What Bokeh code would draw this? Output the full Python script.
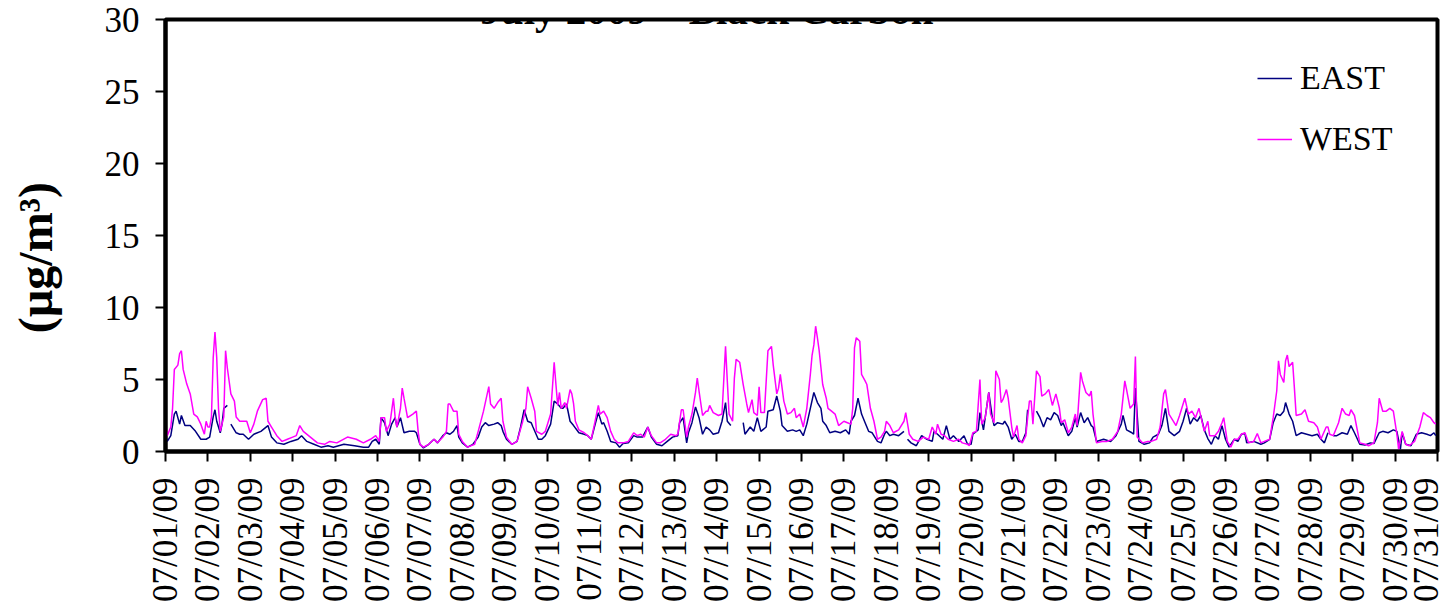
import math
from bokeh.plotting import figure
from bokeh.layouts import row
from bokeh.core.properties import value
from bokeh.models import Range1d, FixedTicker, Label, Legend, LegendItem
from bokeh.embed import file_html
from bokeh.resources import INLINE

NaN = float("nan")

# ---------------- data (hours since 07/01/09 00:00, black carbon in ug/m3) -------------
tick_labels = ["07/01/09", "07/02/09", "07/03/09", "07/04/09", "07/05/09", "07/06/09",
               "07/07/09", "07/08/09", "07/09/09", "07/10/09", "07/11/09", "07/12/09",
               "07/13/09", "07/14/09", "07/15/09", "07/16/09", "07/17/09", "07/18/09",
               "07/19/09", "07/20/09", "07/21/09", "07/22/09", "07/23/09", "07/24/09",
               "07/25/09", "07/26/09", "07/27/09", "07/28/09", "07/29/09", "07/30/09",
               "07/31/09"]
y_ticks = [0, 5, 10, 15, 20, 25, 30]

west_hours = [0, 1, 3, 4, 5, 7, 8, 9, 10, 12, 14, 16, 18, 20, 22, 23, 24, 25, 26, 27, 28, 29, 30,
              31, 32, 33, 34, 35, 37, 39, 40, 42, 44, 46, 48, 50, 52, 55, 57, 58, 60, 63, 66, 69,
              72, 74, 76, 78, 82, 86, 90, 93, 97, 103, 108, 112,
              116, 119, 121, 122, 124, 125, 127, 129, 130, 131, 133, 134, 135, 137, 140, 142, 143,
              144, 146, 149, 152, 154, 157, 159, 160, 161, 163, 165, 166, 168, 171, 175, 177, 180,
              183, 184, 186, 188, 190, 191, 193, 196, 199, 202, 204, 205, 207, 209, 210, 213, 215,
              218, 220, 221, 222, 223, 224, 226, 227, 229, 230,
              231, 232, 234, 237, 239, 241, 243, 245, 246, 248, 250, 252, 254, 256, 259, 262, 265,
              267, 269, 271, 273, 275, 278, 280, 283, 286, 289, 290, 292, 293, 295, 296, 298, 300,
              301, 302, 304, 306, 307, 308, 310, 313, 315, 317, 318, 319, 321, 322, 323, 325, 327,
              329, 330, 332, 333, 335, 336, 337, 339, 341, 343, 344, 346, 347, 348,
              350, 352, 354, 356, 357, 359, 361, 363, 365, 366, 367, 368, 369, 370, 372, 374, 375,
              377, 379, 381, 384, 386, 388, 389, 390, 391, 393, 394, 396, 397, 399, 401, 403, 405,
              407, 408, 410, 412, 415, 418, 419, 421, 423, 426, 429, 432, 434, 436, 437, 439, 441,
              443, 446, 449, 451, 454, 455, 457, 459, 461, 462, 464, 466, 467,
              469, 470, 472, 473, 474, 476, 477, 479, 480, 482, 483, 485, 487, 488, 489, 490, 491,
              493, 495, 496, 498, 500, 502, 504, 506, 507, 509, 511, 513, 515, 516, 518, 519, 521,
              523, 524, 525, 527, 530, 533, 536, 539, 541, 543, 544, 546, 548, 549, 550, 553, 556,
              558, 561, 563, 565, 566, 568, 570, 572, 574, 577, 579, 581, 583, 585, 588, 590,
              591, 594, 596, 598, 599, 601, 603, 605, 607, 609, 611, 613, 616, 618, 620, 622, 625,
              627, 629, 630, 631, 633, 634, 635, 636, 638, 639, 640, 643, 645, 647, 650, 652, 654,
              657, 658, 659, 661, 664, 666, 668, 670, 671, 673, 676, 679, 681, 684, 686, 687, 689,
              691, 693, 695, 697, 698, 700, 702, 704, 707, 710, 712, 714, 716, 718, 719]
west_bc = [2.1, 1.1, 1.7, 3.0, 5.7, 6.0, 6.8, 7.0, 5.7, 4.7, 4.0, 2.6, 2.4, 1.9, 1.2, 2.1, 1.7, 1.7,
           2.4, 6.5, 8.3, 6.5, 3.0, 1.4, 1.9, 2.4, 7.0, 5.8, 4.0, 3.5, 2.4, 2.1, 2.1, 2.1, 1.3, 1.9,
           2.8, 3.6, 3.7, 2.1, 1.7, 1.1, 0.7, 0.85, 1.0, 1.1, 1.8, 1.4, 1.0, 0.6, 0.5, 0.7, 0.6,
           1.0, 0.85, 0.6,
           0.85, 1.1, 0.7, 2.35, 2.35, 1.4, 1.9, 3.7, 2.35, 1.7, 3.0, 4.4, 3.7, 2.35, 2.6, 2.8,
           1.4, 0.5, 0.3, 0.5, 0.85, 0.6, 1.0, 1.4, 3.3, 3.3, 2.8, 2.8, 1.2, 0.7, 0.3, 0.5, 1.4,
           2.8, 4.5, 3.3, 3.0, 3.4, 3.7, 2.1, 1.0, 0.5, 0.7, 2.0, 3.0, 4.5, 3.7, 2.8, 1.4, 1.2,
           1.4, 2.6, 6.2, 4.65, 3.2, 4.1, 3.0, 3.4, 3.0, 4.3, 4.0,
           3.3, 2.1, 1.5, 1.3, 1.1, 0.85, 2.0, 3.2, 2.6, 2.8, 2.35, 1.4, 0.85, 0.6, 0.6, 0.7, 1.3,
           1.1, 1.2, 1.0, 1.7, 1.1, 0.6, 0.6, 0.85, 1.2, 1.1, 1.2, 2.9, 2.9, 1.0, 1.7, 2.6, 4.1,
           5.1, 4.2, 2.5, 2.8, 2.8, 3.2, 2.7, 2.5, 2.6, 7.3, 4.9, 2.6, 2.1, 5.1, 6.4, 6.2, 4.65,
           3.3, 2.7, 3.6, 2.7, 2.5, 4.5, 2.7, 2.7, 7.0, 7.3, 6.0, 4.0, 4.4, 5.35,
           3.5, 2.6, 2.7, 3.0, 2.35, 2.6, 1.7, 3.0, 5.35, 6.7, 7.4, 8.7, 7.9, 7.0, 4.65, 3.7, 3.0,
           2.8, 2.6, 1.8, 2.1, 2.0, 1.9, 3.0, 7.2, 7.9, 7.65, 5.35, 4.9, 4.65, 3.0, 2.1, 0.85, 1.0,
           1.4, 2.1, 1.8, 1.3, 1.5, 2.1, 2.7, 1.2, 0.85, 0.7, 1.0, 0.85, 1.7, 1.2, 1.9, 1.2, 1.1,
           0.85, 0.7, 0.85, 0.6, 0.5, 0.4, 1.3, 1.4, 5.0, 1.9, 2.35, 4.1, 2.6,
           2.0, 5.6, 5.0, 3.4, 3.6, 4.3, 3.7, 1.7, 1.0, 1.8, 0.85, 0.6, 1.1, 2.35, 3.5, 3.5, 1.9,
           5.6, 5.2, 3.85, 4.0, 4.3, 3.2, 4.0, 3.0, 2.0, 2.2, 1.3, 1.7, 2.6, 1.8, 5.5, 4.9, 4.1,
           3.85, 4.2, 2.6, 0.6, 0.7, 0.7, 0.85, 1.4, 2.6, 4.9, 4.3, 3.0, 3.3, 6.6, 1.0, 0.6, 0.7,
           0.7, 0.85, 1.7, 4.0, 4.3, 2.6, 2.2, 1.8, 2.5, 3.7, 2.6, 2.8, 2.35, 3.0, 1.4, 2.1,
           1.1, 1.1, 1.4, 2.0, 2.35, 0.7, 0.3, 0.85, 0.85, 1.2, 1.3, 0.6, 0.7, 1.25, 0.6, 0.7, 0.85,
           2.35, 4.2, 6.3, 5.35, 4.8, 6.3, 6.7, 5.9, 6.2, 4.4, 2.5, 2.6, 2.9, 2.1, 2.0, 1.7, 0.85,
           1.7, 1.7, 1.2, 1.1, 2.0, 3.0, 2.6, 2.5, 2.9, 2.5, 0.6, 0.5, 0.4, 0.6, 2.0, 3.7, 2.8,
           2.8, 3.0, 2.8, 1.2, 0.15, 1.4, 0.5, 0.4, 0.7, 1.7, 2.7, 2.5, 2.35, 2.0, 1.9]

east_hours = [0, 1, 3, 5, 6, 8, 9, 11, 14, 17, 20, 23, 25, 27, 28, 29, 31, 32, 33, 35, 36, 37, 40,
              42, 44, 47, 50, 54, 58, 60, 63, 67, 71, 75, 77, 80, 84, 88, 92, 95, 101, 107, 112,
              115, 117, 119, 121, 122, 124, 126, 128, 130, 131, 133, 135, 138, 141, 142, 144, 146,
              149, 152, 154, 157, 159, 161, 163, 165, 166, 168, 171, 174, 177, 179, 181, 183, 186,
              188, 190, 191, 193, 196, 199, 201, 203, 205, 207, 208, 211, 213, 215, 218, 220, 222,
              224, 225, 227, 229,
              231, 234, 237, 239, 241, 243, 245, 247, 248, 250, 252, 255, 257, 259, 262, 265, 267,
              270, 273, 275, 278, 281, 284, 287, 290, 291, 293, 295, 296, 298, 300, 302, 304, 306,
              308, 310, 313, 315, 317, 318, 320, 321, 327, 328, 331, 333, 335, 337, 340, 341, 344,
              346, 348, 349,
              352, 355, 357, 359, 361, 363, 365, 367, 369, 371, 372, 374, 376, 379, 382, 385, 387,
              388, 390, 392, 394, 396, 398, 400, 403, 405, 407, 408, 410, 412, 415, 418, 419, 420,
              422, 425, 428, 431, 434, 435, 437, 440, 442, 444, 446, 449, 452, 454, 456, 457, 460,
              461, 463, 466, 468,
              469, 471, 474, 475, 477, 479, 481, 483, 485, 487, 488, 489, 493, 495, 497, 499, 501,
              503, 505, 507, 508, 511, 513, 515, 516, 518, 520, 522, 524, 525, 527, 531, 535, 538,
              541, 542, 544, 547, 548, 549, 551, 554, 557, 559, 562, 564, 566, 568, 571, 574, 576,
              578, 580, 582, 584, 586, 588, 590,
              592, 594, 596, 598, 600, 602, 605, 607, 609, 611, 612, 616, 620, 622, 625, 627, 629,
              631, 633, 634, 636, 638, 640, 643, 646, 649, 652, 654, 656, 658, 659, 661, 663, 666,
              669, 671, 673, 676, 679, 682, 684, 687, 689, 692, 695, 697, 699, 700, 702, 705, 708,
              711, 714, 716, 718, 719]
east_bc = [1.2, 0.7, 1.1, 2.6, 2.8, 1.9, 2.5, 1.8, 1.8, 1.4, 0.85, 0.85, 1.0, 2.4, 2.9, 2.1, 1.3,
           1.9, 3.0, 3.2, NaN, 1.9, 1.3, 1.2, 1.2, 0.85, 1.2, 1.4, 1.8, 1.0, 0.6, 0.5, 0.7, 0.85,
           1.1, 0.7, 0.5, 0.3, 0.4, 0.3, 0.5, 0.4, 0.3,
           0.3, 0.7, 0.85, 0.5, 2.35, 2.0, 1.1, 1.9, 2.35, 1.7, 2.35, 1.3, 1.4, 1.4, 1.3, 0.5,
           0.25, 0.5, 0.85, 0.6, 1.1, 1.3, 1.2, 1.4, 1.8, 1.0, 0.6, 0.3, 0.5, 1.0, 1.7, 2.0, 1.8,
           1.9, 2.0, 1.8, 1.4, 0.85, 0.5, 0.7, 1.7, 2.9, 2.1, 2.0, 1.7, 0.85, 0.85, 1.1, 1.9, 3.5,
           3.3, 3.0, 3.0, 3.3, 2.1,
           1.8, 1.3, 1.2, 1.1, 0.85, 1.8, 2.7, 1.9, 2.0, 1.4, 0.7, 0.6, 0.3, 0.55, 0.6, 1.1, 1.0,
           1.0, 1.7, 1.0, 0.5, 0.4, 0.7, 1.0, 1.1, 2.0, 2.35, 0.6, 1.3, 2.0, 3.1, 2.35, 1.2, 1.7,
           1.5, 1.2, 1.3, 2.1, 3.4, 2.1, 1.8, NaN, 2.0, 1.2, 1.7, 1.4, 2.35, 1.4, 1.7, 2.8, 2.9,
           3.85, 2.8, 1.8,
           1.4, 1.5, 1.4, 1.5, 1.1, 1.9, 3.0, 4.1, 3.4, 3.0, 2.1, 1.8, 1.3, 1.4, 1.3, 1.5, 1.2,
           2.1, 2.5, 3.7, 2.6, 2.0, 1.4, 1.3, 0.7, 0.6, 1.2, 1.4, 1.1, 1.2, 1.1, 1.4, NaN, 0.85,
           0.6, 0.4, 1.1, 0.85, 0.7, 1.4, 1.2, 0.85, 1.8, 0.85, 1.1, 0.7, 1.1, 0.5, 0.5, 1.2, 1.5,
           2.7, 1.5, 4.1, 2.35,
           1.8, 2.0, 1.9, 2.1, 1.7, 0.85, 1.2, 0.7, 0.7, 1.3, 2.9, NaN, 2.8, 2.35, 1.7, 2.35, 2.2,
           2.7, 2.5, 1.8, 2.0, 1.1, 1.4, 2.35, 1.7, 2.7, 2.0, 2.35, 1.8, 1.7, 0.7, 0.85, 0.7, 1.1,
           1.9, 2.5, 1.5, 1.3, 1.2, 4.4, 0.7, 0.5, 0.6, 1.0, 1.2, 1.8, 3.0, 1.4, 1.1, 1.4, 2.1,
           3.0, 1.9, 2.35, 2.1, 2.5, 1.5, 0.9,
           0.5, 1.1, 0.85, 1.8, 0.85, 0.3, 0.85, 0.7, 1.2, 1.25, 0.6, 0.7, 0.5, 0.6, 0.85, 2.0,
           2.6, 2.5, 2.8, 3.4, 2.6, 2.1, 1.1, 1.3, 1.2, 1.1, 1.2, 0.85, 0.6, 1.3, NaN, 1.1, 1.1,
           1.3, 1.2, 1.8, 1.3, 0.5, 0.45, 0.6, 0.55, 1.3, 1.4, 1.3, 1.5, 1.4, 0.15, 1.3, 0.5, 0.4,
           1.2, 1.3, 1.2, 1.1, 1.3, 1.1]

series_names = ["EAST", "WEST"]
series_colors = ["#000080", "#FF00FF"]
y_title = "(µg/m³)"

FONT = "Liberation Serif"
TOTAL_W, H = 1445, 604
LEFT_W = 100

# ---------------- narrow strip holding the rotated y-axis title ----------------
lf = figure(width=LEFT_W, height=H, output_backend="svg", toolbar_location=None,
            x_range=Range1d(0, LEFT_W), y_range=Range1d(0, H),
            x_axis_location=None, y_axis_location=None,
            min_border_left=0, min_border_right=0, min_border_top=0, min_border_bottom=0)
lf.outline_line_color = None
lf.grid.visible = False
lf.background_fill_color = "white"
lf.border_fill_color = "white"
lf.text(x=[35], y=[271], text=[y_title], angle=math.pi / 2,
        text_font=value(FONT), text_font_size="48px", text_font_style="bold",
        text_align="center", text_baseline="middle", text_color="black")

# ---------------- main chart ----------------
tick_hours = [24 * i for i in range(len(tick_labels))]

p = figure(width=TOTAL_W - LEFT_W, height=H, output_backend="svg", toolbar_location=None,
           x_range=Range1d(tick_hours[0], tick_hours[-1]), y_range=Range1d(y_ticks[0], y_ticks[-1]),
           min_border_left=165 - LEFT_W, min_border_right=8, min_border_top=19,
           min_border_bottom=150)
p.background_fill_color = "white"
p.border_fill_color = "white"
p.outline_line_color = "black"
p.outline_line_width = 4
p.xgrid.visible = False
p.ygrid.visible = False

r_east = p.line(east_hours, east_bc, line_color=series_colors[0], line_width=1.5)
r_west = p.line(west_hours, west_bc, line_color=series_colors[1], line_width=1.5)

for ax in (p.xaxis[0], p.yaxis[0]):
    ax.axis_line_color = "black"
    ax.axis_line_width = 4
    ax.major_tick_line_color = "black"
    ax.major_tick_line_width = 2
    ax.major_tick_in = 0
    ax.major_tick_out = 10
    ax.minor_tick_line_color = None
    ax.major_label_text_font = FONT
    ax.major_label_text_font_size = "35px"
    ax.major_label_text_color = "black"

p.yaxis[0].ticker = FixedTicker(ticks=y_ticks)
p.yaxis[0].major_label_standoff = 16

p.xaxis[0].ticker = FixedTicker(ticks=tick_hours)
p.xaxis[0].major_label_overrides = {h: lab for h, lab in zip(tick_hours, tick_labels)}
p.xaxis[0].major_label_orientation = math.pi / 2
p.xaxis[0].major_label_standoff = 16

# title (partly cut off at the top, as in the original)
p.add_layout(Label(x=541.5, y=441.5, x_units="screen", y_units="screen",
                   text="July 2009 – Black Carbon", text_font=FONT, text_font_size="41px",
                   text_font_style="bold", text_align="center", text_baseline="alphabetic",
                   text_color="black"))

legend = Legend(items=[LegendItem(label=series_names[0], renderers=[r_east]),
                       LegendItem(label=series_names[1], renderers=[r_west])],
                location=(1092, 292), orientation="vertical",
                label_text_font=FONT, label_text_font_size="34px", label_text_color="black",
                glyph_width=35, glyph_height=20, label_standoff=8, label_height=40,
                spacing=21, padding=0, margin=0,
                border_line_alpha=0, background_fill_alpha=0)
p.add_layout(legend)

layout = row(lf, p, spacing=0)
open("out.html", "w").write(file_html(layout, INLINE))
